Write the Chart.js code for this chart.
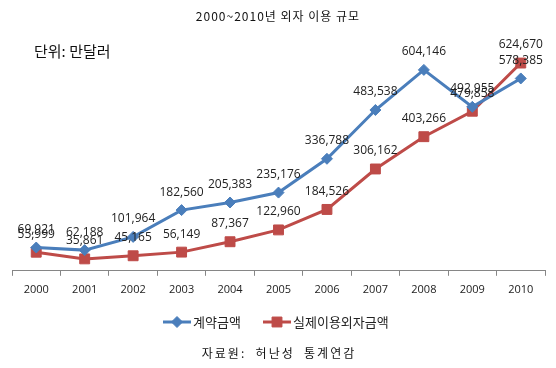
<!DOCTYPE html>
<html>
<head>
<meta charset="utf-8">
<script src="https://cdn.jsdelivr.net/npm/chart.js@4.4.0/dist/chart.umd.min.js"></script>
<style>
  body { margin: 0; background: #fff; }
  #wrap { width: 556px; height: 368px; position: relative; }
</style>
</head>
<body>
<div id="wrap"><canvas id="myChart" width="556" height="368"></canvas></div>
<script>
// data
const years = ["2000", "2001", "2002", "2003", "2004", "2005", "2006", "2007", "2008", "2009", "2010"];
const contract = [69921, 62188, 101964, 182560, 205383, 235176, 336788, 483538, 604146, 492955, 578385];
const actual = [55999, 35861, 45165, 56149, 87367, 122960, 184526, 306162, 403266, 479858, 624670];
const seriesNames = ["계약금액", "실제이용외자금액"];
const titleText = "2000~2010년 외자 이용 규모";
const unitText = "단위: 만달러";
const sourceText = "자료원:  허난성  통계연감";

const blue = '#4A7EBB';
const red = '#BE4B48';
const numFont = '12px "Open Sans", "Liberation Sans", sans-serif';
const krFont = '"Noto Sans CJK KR", "Noto Sans", sans-serif';

const fmt = v => v.toLocaleString('en-US');

// value labels above each point + titles + legend
const extras = {
	id: 'extras',
	afterDatasetsDraw(chart) {
		const c = chart.ctx;
		c.save();
		c.font = numFont;
		c.fillStyle = '#222';
		c.textAlign = 'center';
		c.textBaseline = 'middle';
		chart.data.datasets.forEach((ds, i) => {
			chart.getDatasetMeta(i).data.forEach((pt, j) => {
				c.fillText(fmt(ds.data[j]), pt.x, pt.y - 18);
			});
		});
		c.restore();
	},
	afterDraw(chart) {
		const c = chart.ctx;
		c.save();
		c.fillStyle = '#111';
		c.textBaseline = 'middle';
		c.textAlign = 'center';
		c.font = '12px ' + krFont;
		c.letterSpacing = '1px';
		c.fillText(titleText, 278, 16);
		c.letterSpacing = '0px';

		c.textAlign = 'left';
		c.font = '15px ' + krFont;
		c.fillText(unitText, 34, 51);

		c.textAlign = 'center';
		c.font = '12px ' + krFont;
		c.letterSpacing = '2px';
		c.fillText(sourceText, 279, 353);
		c.letterSpacing = '0px';

		// legend: line + marker + name
		const items = [
			{x: 163, ds: chart.data.datasets[0]},
			{x: 263, ds: chart.data.datasets[1]}
		];
		const ly = 322;
		items.forEach(it => {
			c.strokeStyle = it.ds.borderColor;
			c.fillStyle = it.ds.borderColor;
			c.lineWidth = 3;
			c.beginPath();
			c.moveTo(it.x, ly);
			c.lineTo(it.x + 28, ly);
			c.stroke();
			c.lineWidth = 1;
			Chart.helpers.drawPoint(c, {
				pointStyle: it.ds.pointStyle,
				radius: it.ds.pointRadius,
				borderWidth: 1
			}, it.x + 14, ly);
			c.fillStyle = '#222';
			c.font = '13px ' + krFont;
			c.textAlign = 'left';
			c.fillText(it.ds.label, it.x + 30, ly);
		});
		c.restore();
	}
};

new Chart(document.getElementById('myChart'), {
	type: 'line',
	data: {
		labels: years,
		datasets: [{
			label: seriesNames[0],
			data: contract,
			borderColor: blue,
			backgroundColor: blue,
			borderWidth: 3,
			pointStyle: 'rectRot',
			pointRadius: 5.5,
			pointBorderWidth: 1,
			pointBorderColor: blue,
			tension: 0
		}, {
			label: seriesNames[1],
			data: actual,
			borderColor: red,
			backgroundColor: red,
			borderWidth: 3,
			pointStyle: 'rect',
			pointRadius: 7,
			pointBorderWidth: 1,
			pointBorderColor: red,
			tension: 0
		}]
	},
	options: {
		responsive: false,
		animation: false,
		layout: { padding: { left: 12, right: 11, top: 38, bottom: 65 } },
		plugins: {
			legend: { display: false },
			title: { display: false },
			tooltip: { enabled: false }
		},
		scales: {
			x: {
				offset: true,
				grid: {
					display: true,
					offset: true,
					drawOnChartArea: false,
					drawTicks: true,
					tickLength: 5,
					color: '#868686'
				},
				border: { display: true, color: '#868686', width: 1 },
				ticks: {
					color: '#222',
					padding: 7,
					font: { size: 11, family: '"Open Sans", "Liberation Sans", sans-serif' }
				}
			},
			y: {
				display: false,
				min: 0,
				max: 700000
			}
		}
	},
	plugins: [extras]
});
</script>
</body>
</html>
